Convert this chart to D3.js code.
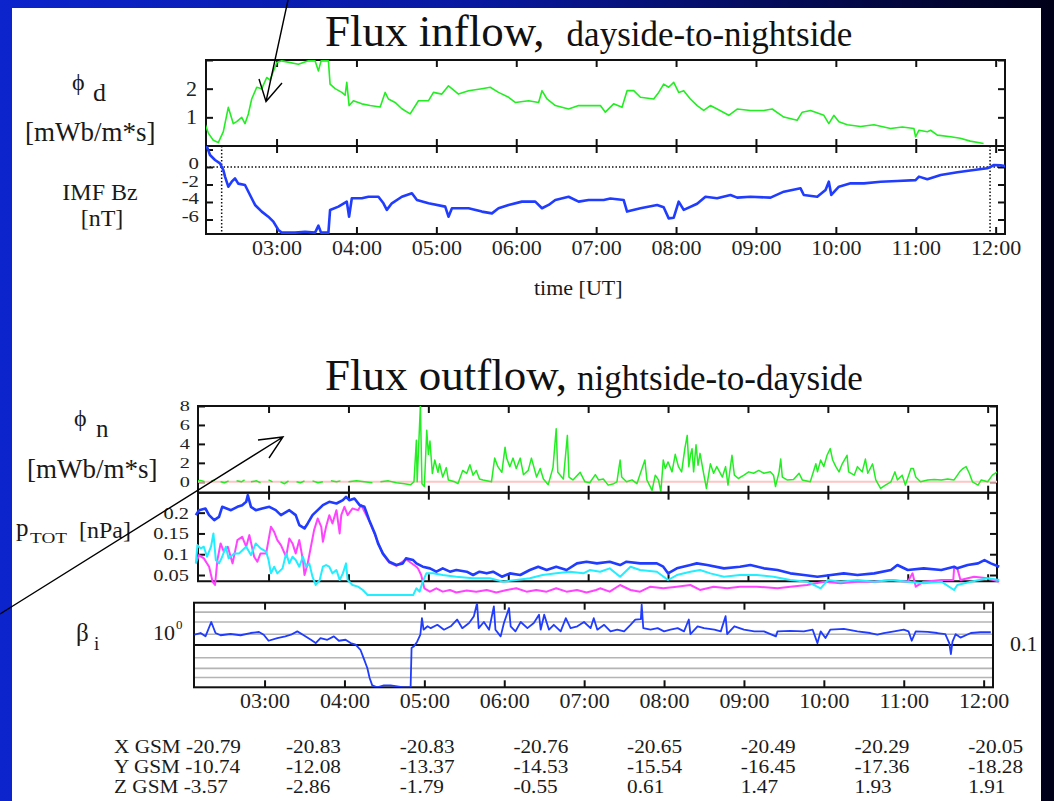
<!DOCTYPE html>
<html><head><meta charset="utf-8">
<script src="https://cdn.jsdelivr.net/npm/d3@7"></script>
<style>body{margin:0;background:#fff}svg{display:block}</style>
</head><body>
<svg id="c" width="1054" height="801"></svg>
<script>
// ---------------- data ----------------
const hourTicks = [3,4,5,6,7,8,9,10,11,12];
const hourLabels = ["03:00","04:00","05:00","06:00","07:00","08:00","09:00","10:00","11:00","12:00"];
const timeDomain = [2.117, 12.117];

const phiDTicks = [1,2,3];
const phiDLabels = ["1","2",""];
const bzTicks = [2,0,-2,-4,-6];
const bzLabels = ["","0","-2","-4","-6"];
const phiNTicks = [0,2,4,6,8];
const phiNLabels = ["0","2","4","6","8"];
const pTicks = [0.05,0.1,0.15,0.2];
const pLabels = ["0.05","0.1","0.15","0.2"];
const betaGrid = [6,3.5,1.8,0.5,0.28,0.17];
const bzMarkers = [2.313, 11.93];

const phiD = [[2.104,0.78],[2.146,0.45],[2.208,0.2],[2.271,0.12],[2.334,0.5],[2.396,1.35],[2.459,0.78],[2.501,0.85],[2.564,1.0],[2.605,0.78],[2.647,1.12],[2.689,1.64],[2.752,2.05],[2.815,2.0],[2.877,2.39],[2.919,2.3],[3.003,2.91],[3.065,2.97],[3.273,2.85],[3.398,2.97],[3.482,2.97],[3.524,2.62],[3.557,2.97],[3.649,2.97],[3.670,2.16],[3.733,2.0],[3.817,1.87],[3.858,1.77],[3.879,2.22],[3.908,1.41],[3.962,1.58],[4.067,1.47],[4.171,1.41],[4.297,1.36],[4.359,1.87],[4.400,1.64],[4.484,1.52],[4.568,1.3],[4.672,1.12],[4.776,1.58],[4.902,1.58],[4.964,1.87],[5.069,1.81],[5.152,2.1],[5.277,1.81],[5.403,1.93],[5.570,2.0],[5.674,2.05],[5.778,1.87],[5.904,1.7],[5.988,1.52],[6.154,1.58],[6.280,1.52],[6.322,1.93],[6.385,1.64],[6.489,1.41],[6.655,1.29],[6.781,1.41],[6.927,1.41],[7.053,1.41],[7.115,1.18],[7.219,1.47],[7.324,1.35],[7.387,1.93],[7.470,1.93],[7.554,1.7],[7.720,1.64],[7.783,1.87],[7.845,2.16],[7.908,2.05],[7.971,2.22],[8.033,1.87],[8.096,1.93],[8.179,1.64],[8.264,1.41],[8.346,1.24],[8.430,1.41],[8.514,1.29],[8.660,1.07],[8.765,1.29],[8.931,1.24],[9.098,1.24],[9.203,1.29],[9.349,1.01],[9.516,0.90],[9.579,1.18],[9.683,1.24],[9.850,1.07],[9.912,0.78],[9.975,1.07],[10.038,0.85],[10.143,0.74],[10.310,0.68],[10.476,0.74],[10.685,0.61],[10.832,0.66],[10.977,0.61],[10.998,0.32],[11.040,0.55],[11.145,0.5],[11.186,0.55],[11.270,0.38],[11.437,0.32],[11.557,0.27],[11.682,0.17],[11.849,0.09]];

const bz = [[2.126,2.4],[2.167,1.37],[2.230,0.8],[2.292,0.42],[2.334,-0.34],[2.355,-1.1],[2.396,-2.25],[2.439,-1.68],[2.480,-1.3],[2.521,-1.9],[2.605,-2.06],[2.668,-3.2],[2.731,-4.34],[2.815,-5.1],[2.897,-5.68],[2.960,-6.25],[3.023,-7.2],[3.065,-7.5],[3.232,-7.5],[3.357,-7.4],[3.482,-7.5],[3.524,-6.7],[3.557,-7.5],[3.649,-7.5],[3.670,-4.91],[3.774,-4.53],[3.879,-3.96],[3.908,-5.68],[3.942,-3.58],[4.067,-3.58],[4.150,-3.4],[4.275,-3.4],[4.338,-4.15],[4.380,-4.9],[4.443,-4.15],[4.568,-3.4],[4.694,-3.0],[4.757,-3.77],[4.902,-4.15],[5.111,-4.53],[5.152,-5.68],[5.195,-4.72],[5.403,-4.72],[5.570,-5.1],[5.696,-5.3],[5.778,-4.72],[5.904,-4.34],[6.071,-3.96],[6.238,-3.96],[6.322,-4.72],[6.405,-4.34],[6.489,-3.77],[6.655,-3.4],[6.781,-3.96],[6.906,-3.77],[7.094,-3.77],[7.178,-3.6],[7.344,-3.77],[7.387,-5.1],[7.554,-4.72],[7.763,-4.34],[7.845,-4.6],[7.908,-5.87],[7.971,-5.8],[8.033,-3.96],[8.096,-4.91],[8.264,-4.2],[8.368,-3.4],[8.514,-3.58],[8.681,-3.2],[8.765,-3.5],[8.931,-3.4],[9.182,-3.5],[9.349,-2.82],[9.558,-2.44],[9.599,-3.2],[9.767,-3.4],[9.871,-2.62],[9.912,-1.68],[9.943,-3.2],[10.038,-2.25],[10.185,-1.87],[10.351,-1.87],[10.560,-1.68],[10.769,-1.6],[10.998,-1.5],[11.040,-1.1],[11.145,-1.4],[11.312,-0.91],[11.521,-0.6],[11.728,-0.34],[11.896,-0.15],[11.979,0.23],[12.063,0.2],[12.12,0.1]];

const phiN = [[2.11,0.1],[2.15,0.15],[2.2,0],[2.24,null],[2.28,0.1],[2.33,0.2],[2.36,null],[2.4,0],[2.45,-0.1],[2.5,0.1],[2.55,null],[2.6,0.1],[2.66,0],[2.7,0.2],[2.73,null],[2.78,0],[2.85,0.1],[2.9,-0.1],[2.95,null],[3.0,0.2],[3.05,0],[3.1,null],[3.15,0],[3.2,-0.2],[3.25,0.1],[3.3,null],[3.35,0],[3.4,-0.1],[3.45,0.1],[3.5,null],[3.55,0.1],[3.62,-0.1],[3.68,0],[3.72,null],[3.78,0.1],[3.85,0],[3.9,0.1],[3.95,null],[4.0,0],[4.1,0.1],[4.2,0],[4.3,-0.1],[4.35,null],[4.4,0],[4.5,0.1],[4.6,-0.1],[4.7,-0.2],[4.78,-0.3],[4.82,0],
[4.85,4.39],[4.86,0],[4.9,8.0],[4.92,-0.2],[4.95,-0.5],[4.98,5.44],[5.0,2.9],[5.02,4.3],[5.05,0.87],[5.08,2.3],[5.12,1.0],[5.14,1.9],[5.18,0.5],[5.225,1.5],[5.25,0.2],[5.33,0],[5.37,-0.2],[5.43,1.2],[5.48,0.88],[5.52,1.8],[5.56,0.7],[5.6,1.2],[5.64,0.3],[5.685,0.2],[5.79,0],[5.83,2.5],[5.87,1.6],[5.92,1.0],[5.96,3.65],[5.98,2.5],[6.02,1.6],[6.06,2.5],[6.1,1.4],[6.15,2.5],[6.19,0.75],[6.25,1.2],[6.29,2.5],[6.355,0.5],[6.4,1.4],[6.44,0.3],[6.5,-0.3],[6.56,1.5],[6.6,5.6],[6.62,1.0],[6.69,0.3],[6.74,4.9],[6.76,0.5],[6.81,0.2],[6.9,1.0],[6.96,0],[7.02,-0.1],[7.09,0.75],[7.13,0.2],[7.19,0.3],[7.25,-0.35],[7.32,-0.2],[7.36,0],[7.4,2.3],[7.42,0.5],[7.48,0],[7.55,0.2],[7.61,-0.2],[7.71,2.3],[7.735,0.2],[7.8,-0.9],[7.84,0.7],[7.88,0.2],[7.91,-1.05],[7.94,2.3],[7.965,1.4],[8.0,2.1],[8.05,1.05],[8.09,2.9],[8.13,1.6],[8.17,1.05],[8.21,3.5],[8.24,4.9],[8.26,1.6],[8.28,2.8],[8.3,3.5],[8.32,1.05],[8.35,3.9],[8.375,1.75],[8.4,3.0],[8.445,0.9],[8.48,-0.7],[8.53,1.9],[8.57,0.9],[8.61,1.6],[8.68,0.5],[8.72,1.6],[8.75,-0.35],[8.8,2.8],[8.83,0.7],[8.88,0.35],[8.95,0.7],[9.01,1.05],[9.07,0.9],[9.135,1.2],[9.2,0.9],[9.28,1.05],[9.32,0.7],[9.345,-0.5],[9.39,1.05],[9.41,2.4],[9.43,0.5],[9.49,0.2],[9.57,0.25],[9.64,0.9],[9.68,0.2],[9.78,0],[9.85,1.9],[9.87,1.05],[9.91,2.3],[9.95,1.6],[9.99,2.8],[10.03,3.5],[10.06,2.3],[10.1,1.6],[10.14,1.05],[10.18,1.9],[10.24,2.8],[10.26,1.05],[10.33,0.7],[10.37,1.6],[10.43,1.05],[10.47,2.4],[10.5,0.9],[10.56,1.9],[10.6,0.2],[10.66,-0.7],[10.72,-0.35],[10.79,0],[10.84,1.05],[10.87,0.2],[10.93,0.7],[10.97,-0.35],[11.04,1.4],[11.07,1.4],[11.1,0.5],[11.16,0],[11.25,0.2],[11.33,0.25],[11.42,0.2],[11.5,0.3],[11.58,0.2],[11.65,1.05],[11.69,1.4],[11.73,1.6],[11.77,0.9],[11.81,0],[11.88,-0.35],[11.92,0.2],[12.0,0],[12.06,0.7],[12.12,1.05]];

const pBlue = [[2.09,0.194],[2.13,0.206],[2.21,0.210],[2.256,0.194],[2.32,0.182],[2.38,0.190],[2.42,0.214],[2.53,0.206],[2.61,0.214],[2.67,0.218],[2.72,0.226],[2.74,0.242],[2.78,0.214],[2.84,0.206],[2.92,0.210],[3.01,0.214],[3.09,0.206],[3.155,0.194],[3.26,0.206],[3.34,0.194],[3.385,0.170],[3.45,0.162],[3.49,0.174],[3.55,0.194],[3.615,0.206],[3.68,0.218],[3.76,0.226],[3.85,0.222],[3.93,0.230],[3.97,0.238],[4.01,0.230],[4.075,0.234],[4.14,0.218],[4.2,0.214],[4.26,0.182],[4.33,0.150],[4.37,0.126],[4.43,0.102],[4.51,0.082],[4.6,0.074],[4.68,0.078],[4.72,0.090],[4.81,0.086],[4.85,0.078],[4.93,0.070],[5.02,0.066],[5.1,0.058],[5.18,0.066],[5.27,0.058],[5.35,0.062],[5.48,0.058],[5.56,0.050],[5.64,0.058],[5.73,0.054],[5.81,0.058],[5.92,0.046],[6.02,0.054],[6.15,0.050],[6.27,0.062],[6.375,0.070],[6.48,0.062],[6.6,0.070],[6.73,0.062],[6.86,0.078],[6.98,0.082],[7.11,0.078],[7.27,0.082],[7.4,0.074],[7.48,0.082],[7.65,0.078],[7.86,0.078],[7.94,0.070],[8.0,0.054],[8.11,0.066],[8.28,0.074],[8.36,0.078],[8.49,0.074],[8.7,0.066],[8.9,0.070],[9.03,0.074],[9.2,0.066],[9.37,0.062],[9.53,0.054],[9.7,0.050],[9.87,0.046],[10.04,0.050],[10.2,0.054],[10.37,0.050],[10.58,0.054],[10.79,0.062],[10.87,0.074],[11.0,0.062],[11.2,0.066],[11.42,0.062],[11.58,0.070],[11.62,0.066],[11.75,0.074],[11.88,0.078],[11.96,0.086],[12.04,0.078],[12.145,0.070]];

const pMagenta = [[2.09,0.078],[2.13,0.098],[2.19,0.090],[2.256,0.070],[2.3,0.034],[2.33,0.026],[2.36,0.086],[2.4,0.126],[2.44,0.106],[2.49,0.118],[2.55,0.078],[2.61,0.134],[2.67,0.142],[2.72,0.118],[2.76,0.146],[2.82,0.094],[2.86,0.082],[2.9,0.102],[2.97,0.102],[3.03,0.166],[3.07,0.154],[3.11,0.134],[3.155,0.122],[3.22,0.094],[3.26,0.138],[3.3,0.126],[3.34,0.102],[3.385,0.134],[3.43,0.086],[3.45,0.050],[3.49,0.078],[3.53,0.118],[3.57,0.158],[3.615,0.186],[3.66,0.166],[3.68,0.130],[3.72,0.166],[3.76,0.194],[3.8,0.174],[3.85,0.206],[3.89,0.150],[3.91,0.194],[3.95,0.214],[3.99,0.194],[4.05,0.210],[4.12,0.206],[4.16,0.218],[4.26,0.180],[4.33,0.148],[4.43,0.100],[4.51,0.080],[4.6,0.072],[4.72,0.088],[4.85,0.070],[4.87,0.066],[4.91,0.050],[4.95,0.018],[5.02,0.010],[5.1,0.018],[5.18,0.010],[5.27,0.014],[5.35,0.008],[5.48,0.013],[5.6,0.010],[5.73,0.014],[5.85,0.008],[5.98,0.014],[6.1,0.018],[6.23,0.010],[6.35,0.014],[6.48,0.010],[6.6,0.018],[6.73,0.010],[6.86,0.014],[6.98,0.008],[7.1,0.014],[7.15,0.018],[7.27,0.010],[7.4,0.026],[7.53,0.014],[7.65,0.010],[7.78,0.022],[7.94,0.018],[8.11,0.022],[8.28,0.026],[8.4,0.014],[8.57,0.022],[8.74,0.018],[8.9,0.022],[9.11,0.022],[9.37,0.018],[9.53,0.022],[9.74,0.026],[9.95,0.034],[10.16,0.030],[10.37,0.034],[10.58,0.034],[10.79,0.038],[11.0,0.034],[11.06,0.054],[11.1,0.022],[11.2,0.034],[11.42,0.038],[11.57,0.038],[11.58,0.066],[11.62,0.066],[11.66,0.038],[11.83,0.046],[12.0,0.042],[12.145,0.034]];

const pCyan = [[2.09,0.078],[2.11,0.122],[2.15,0.114],[2.19,0.118],[2.23,0.094],[2.28,0.118],[2.31,0.150],[2.34,0.086],[2.38,0.078],[2.42,0.094],[2.465,0.118],[2.5,0.090],[2.57,0.102],[2.63,0.102],[2.72,0.118],[2.78,0.098],[2.84,0.126],[2.9,0.114],[2.97,0.106],[3.0,0.086],[3.03,0.054],[3.07,0.070],[3.11,0.054],[3.175,0.066],[3.22,0.102],[3.26,0.078],[3.3,0.094],[3.34,0.086],[3.385,0.070],[3.43,0.094],[3.47,0.070],[3.51,0.078],[3.55,0.046],[3.59,0.026],[3.64,0.038],[3.68,0.070],[3.72,0.074],[3.76,0.070],[3.8,0.054],[3.85,0.062],[3.89,0.038],[3.93,0.054],[3.97,0.078],[3.99,0.038],[4.05,0.026],[4.12,0.022],[4.18,0.014],[4.24,0.002],[4.81,0.002],[4.85,0.018],[4.89,0.010],[4.93,0.034],[4.975,0.054],[5.06,0.054],[5.18,0.050],[5.35,0.046],[5.56,0.042],[5.77,0.042],[5.94,0.034],[6.1,0.038],[6.27,0.042],[6.43,0.050],[6.6,0.054],[6.77,0.058],[6.94,0.054],[7.02,0.062],[7.15,0.058],[7.27,0.066],[7.4,0.046],[7.53,0.070],[7.65,0.062],[7.86,0.058],[8.0,0.038],[8.11,0.050],[8.28,0.058],[8.4,0.062],[8.53,0.054],[8.7,0.046],[8.9,0.050],[9.11,0.050],[9.32,0.046],[9.53,0.038],[9.74,0.034],[9.91,0.018],[10.0,0.038],[10.16,0.034],[10.37,0.038],[10.58,0.034],[10.79,0.038],[11.0,0.034],[11.2,0.030],[11.42,0.034],[11.58,0.014],[11.62,0.026],[11.79,0.034],[12.0,0.042],[12.145,0.038]];

const beta = [[2.123,1.75],[2.199,1.92],[2.261,1.6],[2.333,3.5],[2.386,1.92],[2.449,1.7],[2.574,1.82],[2.70,1.7],[2.825,1.92],[2.93,2.03],[2.99,1.75],[3.05,1.26],[3.16,1.46],[3.26,1.6],[3.33,1.75],[3.41,2.1],[3.49,1.7],[3.58,1.33],[3.64,1.11],[3.70,1.46],[3.785,1.33],[3.868,1.6],[3.93,1.26],[4.014,1.33],[4.077,1.11],[4.14,1.02],[4.20,0.77],[4.24,0.49],[4.286,0.286],[4.315,0.166],[4.348,0.111],[4.41,0.1],[4.494,0.111],[4.577,0.111],[4.66,0.105],[4.744,0.1],[4.828,0.1],[4.84,0.85],[4.87,0.93],[4.91,1.2],[4.95,1.75],[4.97,4.3],[4.99,2.3],[5.04,2.77],[5.08,2.5],[5.163,3.0],[5.246,2.3],[5.33,2.77],[5.41,4.0],[5.475,2.5],[5.56,3.3],[5.62,4.8],[5.66,9.8],[5.68,2.5],[5.745,3.5],[5.81,2.3],[5.87,8.2],[5.89,2.3],[5.955,1.6],[5.996,3.3],[6.06,7.5],[6.08,2.77],[6.14,2.1],[6.206,3.5],[6.29,2.5],[6.37,3.3],[6.435,5.2],[6.456,2.3],[6.5,5.2],[6.56,2.3],[6.62,3.0],[6.706,2.1],[6.77,4.3],[6.83,2.5],[6.915,2.77],[6.998,3.5],[7.08,2.5],[7.12,4.3],[7.165,2.3],[7.25,3.0],[7.33,2.1],[7.414,2.3],[7.5,2.1],[7.58,3.0],[7.64,4.0],[7.71,4.1],[7.72,9.0],[7.74,2.5],[7.83,2.3],[7.92,2.5],[8.0,2.1],[8.08,2.3],[8.17,2.5],[8.25,2.1],[8.31,4.0],[8.33,1.8],[8.42,2.77],[8.5,2.5],[8.63,2.3],[8.71,2.1],[8.77,4.8],[8.79,1.8],[8.88,2.77],[9.0,2.3],[9.13,2.1],[9.25,2.1],[9.4,1.6],[9.42,2.1],[9.58,2.15],[9.75,2.1],[9.86,2.3],[9.92,1.11],[9.96,2.1],[10.02,1.46],[10.08,2.3],[10.25,2.4],[10.42,2.1],[10.58,1.92],[10.67,1.75],[10.75,1.92],[10.88,2.1],[11.0,2.3],[11.06,2.1],[11.1,1.26],[11.15,2.1],[11.30,2.05],[11.42,1.92],[11.52,1.8],[11.57,1.11],[11.59,0.61],[11.61,1.2],[11.65,1.8],[11.71,1.5],[11.84,1.92],[11.96,2.0],[12.09,2.0]];

const gsmRowNames = ["X GSM","Y GSM","Z GSM"];
const gsmX = ["-20.79","-20.83","-20.83","-20.76","-20.65","-20.49","-20.29","-20.05"];
const gsmY = ["-10.74","-12.08","-13.37","-14.53","-15.54","-16.45","-17.36","-18.28"];
const gsmZ = ["-3.57","-2.86","-1.79","-0.55","0.61","1.47","1.93","1.91"];

// ---------------- drawing ----------------
const SERIF = "'Liberation Serif','Times New Roman',serif";
const GREEN = "#22ee22", BLUE = "#1f3cff", MAG = "#ff44ff", CYAN = "#22eeff";
const svg = d3.select("#c");
const defs = svg.append("defs");
const grad = defs.append("linearGradient").attr("id","bg").attr("x1",0).attr("x2",1).attr("y1",0).attr("y2",0);
grad.append("stop").attr("offset",0).attr("stop-color","#0c24cc");
grad.append("stop").attr("offset",0.45).attr("stop-color","#0818a0");
grad.append("stop").attr("offset",1).attr("stop-color","#000018");
svg.append("rect").attr("width",1054).attr("height",801).attr("fill","url(#bg)");
svg.append("rect").attr("x",12).attr("y",8).attr("width",1029).attr("height",793).attr("fill","#fff");

const xTop = d3.scaleLinear().domain(timeDomain).range([206,1005]);
const xMid = d3.scaleLinear().domain(timeDomain).range([198,997]);
const xBeta = d3.scaleLinear().domain(timeDomain).range([194,993]);
const yPhiD = d3.scaleLinear().domain([0,3]).range([146,60]);
const yBz = d3.scaleLinear().domain([-7.66,2.4]).range([234,146]);
const yPhiN = d3.scaleLinear().domain([-1.15,8]).range([492.7,406]);
const yP = d3.scaleLinear().domain([0,0.248]).range([595.8,492.7]);
const pFrameMin = 0.035;
const yBeta = d3.scaleLog().domain([0.1,10]).range([687.3,602.7]);

function styleAxis(g, fs){
  g.select(".domain").remove();
  g.selectAll(".tick line").attr("stroke","#111").attr("stroke-width",2);
  g.selectAll("text").attr("font-family",SERIF).attr("font-size",fs).attr("fill","#222");
  g.attr("font-family",SERIF);
}
let clipN = 0;
function panel(x, y, yTopPx, yBotPx, o){
  const [x0,x1] = x.range();
  const g = svg.append("g");
  g.append("g").attr("transform",`translate(0,${yTopPx})`)
    .call(d3.axisTop(x).tickValues(hourTicks).tickSize(-7).tickFormat(""))
    .call(a=>styleAxis(a,22));
  g.append("g").attr("transform",`translate(0,${yBotPx})`)
    .call(d3.axisBottom(x).tickValues(hourTicks).tickSize(-7).tickPadding(o.xPad||5)
      .tickFormat(o.xLabels ? (d,i)=>hourLabels[i] : ""))
    .call(a=>styleAxis(a,22));
  if (o.yTicks){
    const sx = o.yScaleX || 1;
    g.append("g").attr("transform",`translate(${x0},0)`)
      .call(d3.axisLeft(y).tickValues(o.yTicks).tickSize(-7).tickPadding(o.yPad/sx)
        .tickFormat((d,i)=>o.yLabels[i]))
      .call(a=>styleAxis(a,o.yFont))
      .call(a=>a.selectAll("text").attr("dy",o.yDy||"0.32em").attr("transform",`scale(${sx},1)`));
    g.append("g").attr("transform",`translate(${x1},0)`)
      .call(d3.axisRight(y).tickValues(o.yTicks).tickSize(-7).tickFormat(""))
      .call(a=>styleAxis(a,o.yFont));
  }
  g.append("rect").attr("x",x0).attr("y",yTopPx).attr("width",x1-x0).attr("height",yBotPx-yTopPx)
    .attr("fill","none").attr("stroke","#111").attr("stroke-width",2);
  const id = "clip"+(clipN++);
  defs.append("clipPath").attr("id",id).append("rect")
    .attr("x",x0).attr("y",yTopPx).attr("width",x1-x0).attr("height",yBotPx-yTopPx);
  return id;
}
function drawLine(data, x, y, color, w, clip){
  const line = d3.line().defined(d=>d[1]!==null).x(d=>x(d[0])).y(d=>y(d[1]));
  const p = svg.append("path").datum(data).attr("d",line).attr("fill","none")
    .attr("stroke",color).attr("stroke-width",w).attr("stroke-linejoin","round");
  if (clip) p.attr("clip-path",`url(#${clip})`);
}

const c1 = panel(xTop, yPhiD, 60, 146, {yTicks:phiDTicks, yLabels:phiDLabels, yPad:9, yFont:20, yScaleX:1.1});
drawLine(phiD, xTop, yPhiD, GREEN, 1.6, c1);
const c2 = panel(xTop, yBz, 146, 234, {yTicks:bzTicks, yLabels:bzLabels, yPad:7, yFont:16, yScaleX:1.3, yDy:"0.1em", xLabels:true, xPad:5});
svg.append("line").attr("x1",xTop.range()[0]).attr("x2",xTop.range()[1]).attr("y1",yBz(0)).attr("y2",yBz(0))
  .attr("stroke","#111").attr("stroke-width",1.5).attr("stroke-dasharray","1.5,2");
bzMarkers.forEach(t=>{
  svg.append("line").attr("x1",xTop(t)).attr("x2",xTop(t)).attr("y1",146).attr("y2",234)
    .attr("stroke","#111").attr("stroke-width",1.5).attr("stroke-dasharray","1.5,2");
});
drawLine(bz, xTop, yBz, BLUE, 2.6, c2);

const c3 = panel(xMid, yPhiN, 406, 492.7, {yTicks:phiNTicks, yLabels:phiNLabels, yPad:8, yFont:14, yScaleX:1.45, yDy:"0.35em"});
svg.append("line").attr("x1",xMid.range()[0]).attr("x2",xMid.range()[1]).attr("y1",yPhiN(0)).attr("y2",yPhiN(0))
  .attr("stroke","#ffc4c4").attr("stroke-width",2);
drawLine(phiN, xMid, yPhiN, GREEN, 1.5, c3);

panel(xMid, yP, 492.7, yP(pFrameMin), {yTicks:pTicks, yLabels:pLabels, yPad:9, yFont:17, yScaleX:1.2});
drawLine(pMagenta, xMid, yP, MAG, 2, null);
drawLine(pCyan, xMid, yP, CYAN, 2, null);
drawLine(pBlue, xMid, yP, BLUE, 2.6, null);

const bx0 = xBeta.range()[0], bx1 = xBeta.range()[1];
betaGrid.forEach(v=>{
  svg.append("line").attr("x1",bx0).attr("x2",bx1).attr("y1",yBeta(v)).attr("y2",yBeta(v))
    .attr("stroke","#b4b4b4").attr("stroke-width",1.6);
});
svg.append("line").attr("x1",bx0).attr("x2",bx1).attr("y1",yBeta(1)).attr("y2",yBeta(1))
  .attr("stroke","#111").attr("stroke-width",2);
const c5 = panel(xBeta, yBeta, 602.7, 687.3, {xLabels:true, xPad:5});
drawLine(beta, xBeta, yBeta, BLUE, 1.8, c5);

function txt(x, y, s, fs, anchor){
  return svg.append("text").attr("x",x).attr("y",y).attr("font-family",SERIF).attr("font-size",fs)
    .attr("fill","#1a1a1a").attr("text-anchor",anchor||"start").text(s);
}
const t1 = svg.append("text").attr("x",325).attr("y",46).attr("font-family",SERIF).attr("fill","#111");
t1.append("tspan").attr("font-size",45).text("Flux inflow,");
t1.append("tspan").attr("font-size",35).attr("dx",22).text("dayside-to-nightside");
const t2 = svg.append("text").attr("x",325).attr("y",390).attr("font-family",SERIF).attr("fill","#111");
t2.append("tspan").attr("font-size",45).text("Flux outflow,");
t2.append("tspan").attr("font-size",35).attr("dx",10).text("nightside-to-dayside");

txt(72, 90, "\u03D5", 24);
txt(93, 101, "d", 26);
txt(25, 141, "[mWb/m*s]", 27);
txt(100, 200, "IMF Bz", 24, "middle");
txt(102, 226, "[nT]", 24, "middle");
txt(534, 295, "time [UT]", 22);

txt(74, 426, "\u03D5", 24);
txt(96, 437, "n", 25);
txt(27, 478, "[mWb/m*s]", 27);
txt(16, 536, "p", 25);
txt(30, 543, "TOT", 15).attr("textLength",37).attr("lengthAdjust","spacingAndGlyphs");
txt(79, 538, "[nPa]", 24);
txt(76, 641, "\u03B2", 25);
txt(94, 650, "i", 19);
txt(153, 640, "10", 22);
txt(176, 629, "0", 13);
txt(1010, 651, "0.1", 22);

// GSM table: font a little narrower in height, stretched to the reference widths
const GSX = 1.12;
const rows = [gsmX, gsmY, gsmZ];
rows.forEach((r,ri)=>{
  const y = 753 + ri*20;
  txt(114/GSX, y, gsmRowNames[ri] + " " + r[0], 19).attr("transform",`scale(${GSX},1)`);
  r.slice(1).forEach((v,ci)=>txt((286 + ci*113.7)/GSX, y, v, 19).attr("transform",`scale(${GSX},1)`));
});

const ann = svg.append("g").attr("stroke","#000").attr("stroke-width",1.4).attr("fill","none");
ann.append("path").attr("d","M288,0 L266,101.5 M259,79 L266,101.5 L282,83");
ann.append("path").attr("d","M0,614 L283,437 M258,440 L283,437 L269,458");
</script>
</body></html>
